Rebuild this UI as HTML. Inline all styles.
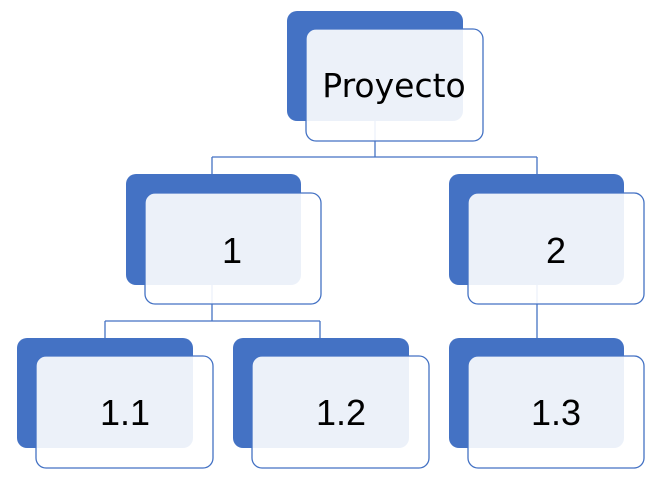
<!DOCTYPE html>
<html><head><meta charset="utf-8"><style>
html,body{margin:0;padding:0;background:#fff;}
</style></head><body>
<svg width="662" height="490" xmlns="http://www.w3.org/2000/svg" style="display:block">
<g stroke="#4472c4" stroke-width="1.3" fill="none">
<path d="M375 121V157M212 157H537M212 157V175M537 157V175"/>
<path d="M212 285V321M105 321H320M105 321V338M320 321V338"/>
<path d="M537 285V338"/>
</g>
<g font-family="'Liberation Sans', sans-serif" font-size="36" fill="#000" text-anchor="middle">
<g>
<rect x="287" y="11" width="176" height="110" rx="10" fill="#4472c4"/>
<rect x="306" y="29" width="177" height="112" rx="10" fill="rgba(255,255,255,0.9)" stroke="#4472c4" stroke-width="1.3"/>
<text x="394" y="97" font-family="'DejaVu Sans', sans-serif" font-size="33">Proyecto</text>
</g>
<g>
<rect x="126" y="174" width="175" height="111" rx="10" fill="#4472c4"/>
<rect x="145" y="193" width="176" height="111" rx="10" fill="rgba(255,255,255,0.9)" stroke="#4472c4" stroke-width="1.3"/>
<text x="232" y="263">1</text>
</g>
<g>
<rect x="449" y="174" width="175" height="111" rx="10" fill="#4472c4"/>
<rect x="468" y="193" width="176" height="111" rx="10" fill="rgba(255,255,255,0.9)" stroke="#4472c4" stroke-width="1.3"/>
<text x="556" y="263">2</text>
</g>
<g>
<rect x="17" y="338" width="176" height="110" rx="10" fill="#4472c4"/>
<rect x="36" y="356" width="177" height="112" rx="10" fill="rgba(255,255,255,0.9)" stroke="#4472c4" stroke-width="1.3"/>
<text x="125" y="425">1.1</text>
</g>
<g>
<rect x="233" y="338" width="176" height="110" rx="10" fill="#4472c4"/>
<rect x="252" y="356" width="177" height="112" rx="10" fill="rgba(255,255,255,0.9)" stroke="#4472c4" stroke-width="1.3"/>
<text x="341" y="425">1.2</text>
</g>
<g>
<rect x="449" y="338" width="175" height="110" rx="10" fill="#4472c4"/>
<rect x="468" y="356" width="176" height="112" rx="10" fill="rgba(255,255,255,0.9)" stroke="#4472c4" stroke-width="1.3"/>
<text x="556" y="425">1.3</text>
</g>
</g>
</svg>
</body></html>
